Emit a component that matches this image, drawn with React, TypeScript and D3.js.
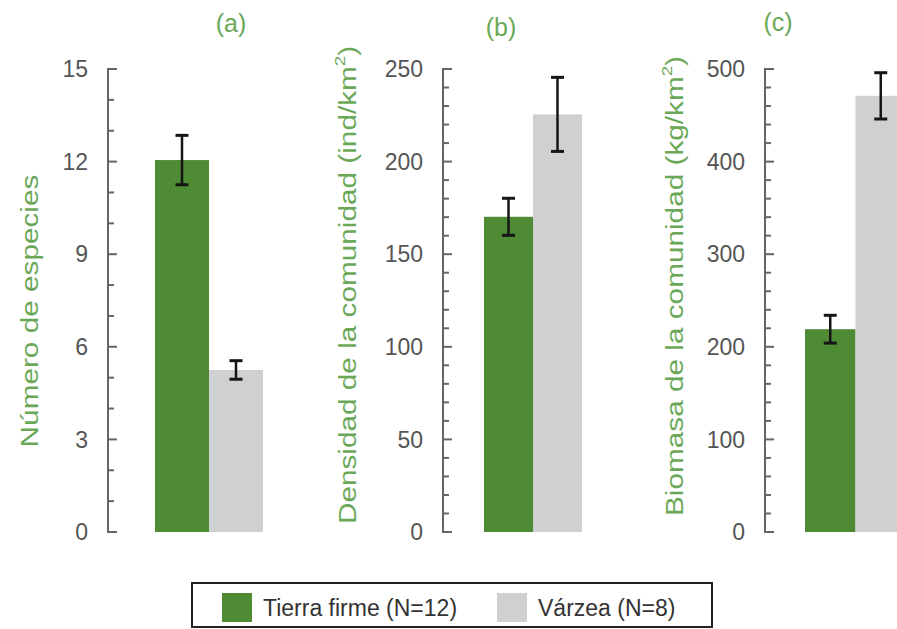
import React from "react";
import * as d3 from "d3";

const groups = ["Tierra firme (N=12)", "Várzea (N=8)"];
const panelLetters = ["(a)", "(b)", "(c)"];
const yTitleMain = ["Número de especies", "Densidad de la comunidad (ind/km", "Biomasa de la comunidad (kg/km"];
const yTitleSup = ["", "2", "2"];
const yTitleEnd = ["", ")", ")"];
const yMax = [15, 250, 500];
const majorStep = [3, 50, 100];
const minorStep = [1, 10, 20];
const tierraMeans = [12.05, 170.2, 219];
const tierraErr = [0.8, 10, 15];
const varzeaMeans = [5.25, 225.5, 471];
const varzeaErr = [0.3, 20, 25];

const W = 897;
const H = 629;
const yTop = 69;
const yBottom = 532;
const axisX = [108, 443, 765];
const barRange: [number, number][] = [[155, 263], [484, 582], [805, 906]];
const titleX = [231, 501, 778];
const titleY = [32, 36, 31];
const yTitleX = [38, 356, 683];
const yTitleCY = [311, 285, 286];

const GREEN = "#4f8a34";
const GREY = "#cfd0d2";
const LABEL_GREEN = "#6aa858";
const FONT = "'Liberation Sans', Arial, Helvetica, sans-serif";

function Panel({ i }: { i: number }) {
  const y = d3.scaleLinear().domain([0, yMax[i]]).range([yBottom, yTop]);
  const x = d3.scaleBand<string>().domain(groups).range(barRange[i]).paddingInner(0).paddingOuter(0);
  const means = [tierraMeans[i], varzeaMeans[i]];
  const errs = [tierraErr[i], varzeaErr[i]];
  const colors = [GREEN, GREY];
  const minorTicks = d3.range(0, yMax[i] + minorStep[i] / 2, minorStep[i]);
  const majorTicks = d3.range(0, yMax[i] + majorStep[i] / 2, majorStep[i]);
  const ax = axisX[i];
  return (
    <g>
      {groups.map((g, k) => (
        <rect key={g} x={x(g)} y={y(means[k])} width={x.bandwidth()} height={yBottom - y(means[k])} fill={colors[k]} />
      ))}
      {groups.map((g, k) => {
        const cx = (x(g) as number) + x.bandwidth() / 2;
        const top = y(means[k] + errs[k]);
        const bot = y(means[k] - errs[k]);
        return (
          <g key={g} stroke="#151515" strokeWidth={2.5}>
            <line x1={cx} x2={cx} y1={top} y2={bot} />
            <line x1={cx - 6.5} x2={cx + 6.5} y1={top} y2={top} strokeWidth={3} />
            <line x1={cx - 6.5} x2={cx + 6.5} y1={bot} y2={bot} strokeWidth={3} />
          </g>
        );
      })}
      <line x1={ax} x2={ax} y1={y(yMax[i]) - 1} y2={y(0) + 1} stroke="#666" strokeWidth={2} />
      {minorTicks.map((t) => {
        const isMajor = Math.abs(t / majorStep[i] - Math.round(t / majorStep[i])) < 1e-6;
        return (
          <line key={t} x1={ax} x2={ax + (isMajor ? 9 : 6)} y1={y(t)} y2={y(t)} stroke="#666" strokeWidth={2} />
        );
      })}
      {majorTicks.map((t) => (
        <text key={t} x={ax - 20} y={y(t)} dy="0.36em" textAnchor="end" fontSize={23} fill="#555" fontFamily={FONT}>
          {t}
        </text>
      ))}
      <text x={titleX[i]} y={titleY[i]} textAnchor="middle" fontSize={25} fill={LABEL_GREEN} fontFamily={FONT}>
        {panelLetters[i]}
      </text>
      <text
        transform={`translate(${yTitleX[i]},${yTitleCY[i]}) rotate(-90) scale(1.24,1)`}
        textAnchor="middle"
        fontSize={24}
        fill={LABEL_GREEN}
        fontFamily={FONT}
      >
        {yTitleMain[i]}
        {yTitleSup[i] ? (
          <>
            <tspan dy={-11} fontSize={15}>{yTitleSup[i]}</tspan>
            <tspan dy={11}>{yTitleEnd[i]}</tspan>
          </>
        ) : null}
      </text>
    </g>
  );
}

export default function App() {
  return (
    <svg width={W} height={H} style={{ position: "absolute", left: 0, top: 0, background: "#fff" }}>
      <rect x={0} y={0} width={W} height={H} fill="#fff" />
      {[0, 1, 2].map((i) => (
        <Panel key={i} i={i} />
      ))}
      <g fontFamily={FONT}>
        <rect x={192} y={583} width={520} height={44} fill="#fff" stroke="#222" strokeWidth={2} />
        <rect x={222} y={593} width={30} height={29} fill={GREEN} />
        <text x={263} y={616} fontSize={23} fill="#333">{groups[0]}</text>
        <rect x={497} y={593} width={30} height={29} fill={GREY} />
        <text x={538} y={616} fontSize={23} fill="#333">{groups[1]}</text>
      </g>
    </svg>
  );
}
